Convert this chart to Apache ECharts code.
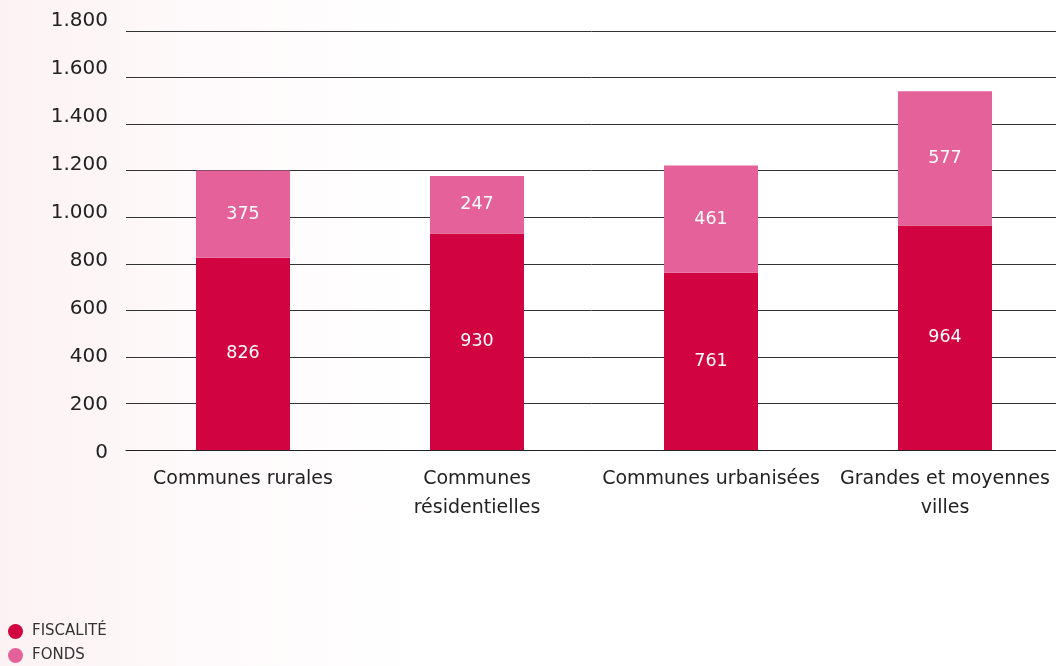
<!DOCTYPE html>
<html>
<head>
<meta charset="utf-8">
<script src="https://cdn.jsdelivr.net/npm/echarts@6/dist/echarts.min.js"></script>
<style>
  html, body { margin: 0; padding: 0; }
  body {
    width: 1056px; height: 666px;
    background: linear-gradient(90deg, #fcf2f4 0%, #fef9fa 18%, #ffffff 40%);
  }
  #chart { width: 1056px; height: 666px; }
</style>
</head>
<body>
<div id="chart"></div>
<script>
// Categories and stacked values
const categories = ['Communes rurales', 'Communes\nrésidentielles', 'Communes urbanisées', 'Grandes et moyennes\nvilles'];
const fiscalite = [826, 930, 761, 964];
const fonds = [375, 247, 461, 577];
const seriesNames = ['FISCALITÉ', 'FONDS'];
const yTicks = { min: 0, max: 1800, interval: 200 };

const fontFamily = '"DejaVu Sans", "Noto Sans", sans-serif';
const fmtThousands = v => String(v).replace(/\B(?=(\d{3})+(?!\d))/g, '.');

// Tick labels drift gradually upward relative to their grid lines
const tickLabelRich = {};
const tickCount = (yTicks.max - yTicks.min) / yTicks.interval;
for (let k = 0; k <= tickCount; k++) {
  const lift = 1.44 * k - 2.5;
  tickLabelRich['t' + k] = {
    fontFamily, fontSize: 20, color: '#222222',
    padding: lift >= 0 ? [0, 0, 2 * lift, 0] : [-2 * lift, 0, 0, 0]
  };
}

const chart = echarts.init(document.getElementById('chart'));
const labelStyle = {
  show: true, position: 'inside', color: '#ffffff',
  fontFamily, fontSize: 17.5
};

chart.setOption({
  animation: false,
  backgroundColor: 'transparent',
  grid: { left: 126, right: -6, top: 31, bottom: 216, containLabel: false, outerBoundsMode: 'none' },
  legend: {
    orient: 'vertical', left: 8, top: 624, padding: 0,
    icon: 'circle', itemWidth: 15, itemHeight: 15, itemGap: 9,
    textStyle: { fontFamily, fontSize: 15, color: '#333333', padding: [0, 0, 0, 4] },
    data: seriesNames
  },
  xAxis: {
    type: 'category', data: categories,
    axisLine: { show: true, lineStyle: { color: '#222222', width: 1 } },
    axisTick: { show: false },
    axisLabel: { fontFamily, fontSize: 19, color: '#222222', margin: 15, lineHeight: 29, interval: 0 }
  },
  yAxis: {
    type: 'value', min: yTicks.min, max: yTicks.max, interval: yTicks.interval,
    axisLine: { show: false }, axisTick: { show: false },
    splitLine: { lineStyle: { color: '#333333', width: 1 } },
    axisLabel: {
      margin: 18,
      formatter: v => '{t' + Math.round((v - yTicks.min) / yTicks.interval) + '|' + fmtThousands(v) + '}',
      rich: tickLabelRich
    }
  },
  series: [
    {
      name: seriesNames[0], type: 'bar', stack: 'total', barWidth: 94,
      data: fiscalite, itemStyle: { color: '#D10441' }, label: labelStyle
    },
    {
      name: seriesNames[1], type: 'bar', stack: 'total', barWidth: 94,
      data: fonds, itemStyle: { color: '#E56199' }, label: labelStyle
    }
  ]
});
</script>
</body>
</html>
